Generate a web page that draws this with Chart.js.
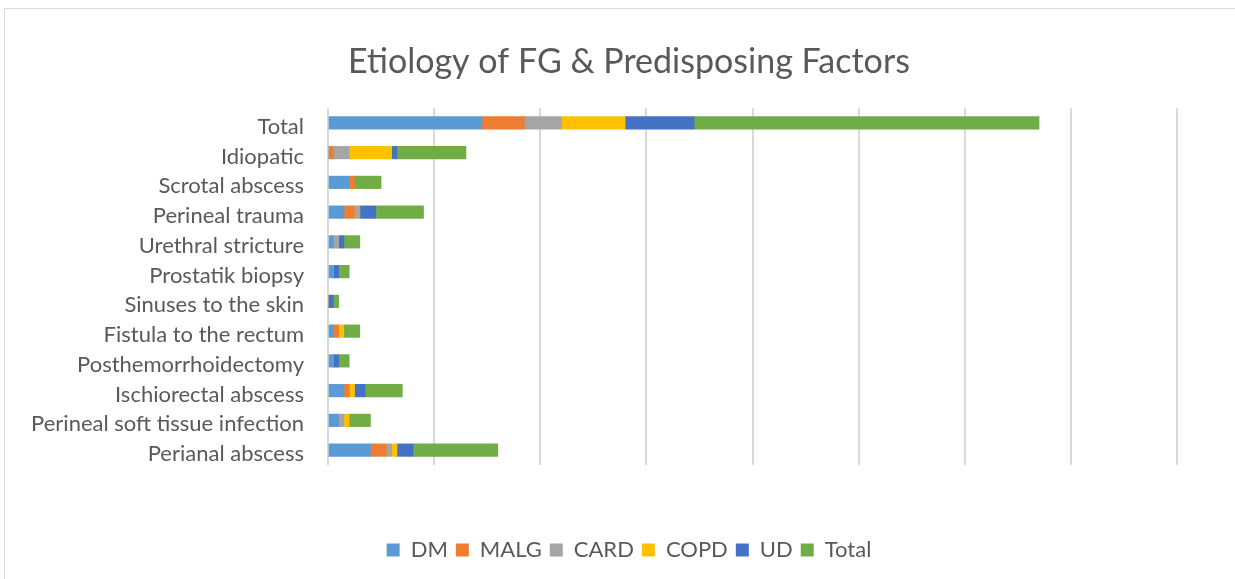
<!DOCTYPE html>
<html>
<head>
<meta charset="utf-8">
<script src="https://cdn.jsdelivr.net/npm/chart.js@4/dist/chart.umd.min.js"></script>
<style>
  html, body { margin: 0; padding: 0; background: #ffffff; }
  #frame { position: absolute; left: 4px; top: 8px; width: 1260px; height: 600px; border: 1px solid #d9d9d9; box-sizing: border-box; }
  #wrap { position: absolute; left: 0; top: 0; width: 1235px; height: 579px; }
</style>
</head>
<body>
<div id="frame"></div>
<div id="wrap"><canvas id="c" width="1235" height="579"></canvas></div>
<script>
const categories = ['Total', 'Idiopatic', 'Scrotal abscess', 'Perineal trauma', 'Urethral stricture',
  'Prostatik biopsy', 'Sinuses to the skin', 'Fistula to the rectum', 'Posthemorrhoidectomy',
  'Ischiorectal abscess', 'Perineal soft tissue infection', 'Perianal abscess'];
const seriesNames = ['DM', 'MALG', 'CARD', 'COPD', 'UD', 'Total'];
const dm    = [29, 0, 4, 3, 1, 1, 0, 1, 1, 3, 2, 8];
const malg  = [8, 1, 1, 2, 0, 0, 0, 1, 0, 1, 0, 3];
const card  = [7, 3, 0, 1, 1, 0, 0, 0, 0, 0, 1, 1];
const copd  = [12, 8, 0, 0, 0, 0, 0, 1, 0, 1, 1, 1];
const ud    = [13, 1, 0, 3, 1, 1, 1, 0, 1, 2, 0, 3];
const total = [65, 13, 5, 9, 3, 2, 1, 3, 2, 7, 4, 16];
const xTicks = [0, 20, 40, 60, 80, 100, 120, 140, 160];

const colors = ['#5B9BD5', '#ED7D31', '#A5A5A5', '#FFC000', '#4472C4', '#70AD47'];
const values = [dm, malg, card, copd, ud, total];

Chart.defaults.font.family = 'Lato, "Open Sans", sans-serif';
Chart.defaults.color = '#595959';

new Chart(document.getElementById('c'), {
  type: 'bar',
  data: {
    labels: categories,
    datasets: seriesNames.map((n, i) => ({
      label: n,
      data: values[i],
      backgroundColor: colors[i],
      borderWidth: 0,
      barThickness: 12.5
    }))
  },
  options: {
    indexAxis: 'y',
    responsive: false,
    animation: false,
    layout: { padding: { left: 23, right: 0, top: 10, bottom: 8 } },
    plugins: {
      title: {
        display: true,
        text: 'Etiology of FG & Predisposing Factors',
        font: { size: 34, weight: 'normal' },
        color: '#595959',
        padding: { top: 31.6, bottom: 25.6 }
      },
      legend: {
        position: 'bottom',
        labels: { boxWidth: 13, boxHeight: 13, font: { size: 22 }, color: '#595959', padding: 8 }
      },
      tooltip: { enabled: false }
    },
    scales: {
      x: {
        stacked: true,
        min: 0,
        max: xTicks[xTicks.length - 1],
        afterBuildTicks: (s) => { s.ticks = xTicks.map(v => ({ value: v })); },
        ticks: { display: false },
        grid: { color: '#d9d9d9', lineWidth: 2, drawTicks: false },
        border: { display: false },
        afterFit: (s) => { s.height = 66; }
      },
      y: {
        stacked: true,
        ticks: { font: { size: 22 }, color: '#595959', padding: 24, autoSkip: false, labelOffset: 4 },
        grid: { display: false, drawTicks: false },
        border: { display: false },
        afterFit: (s) => { s.width = 305; }
      },
      yRight: {
        type: 'category',
        labels: categories,
        position: 'right',
        display: true,
        ticks: { display: false },
        grid: { display: false, drawTicks: false },
        border: { display: false },
        afterFit: (s) => { s.width = 58; }
      }
    }
  }
});
</script>
</body>
</html>
